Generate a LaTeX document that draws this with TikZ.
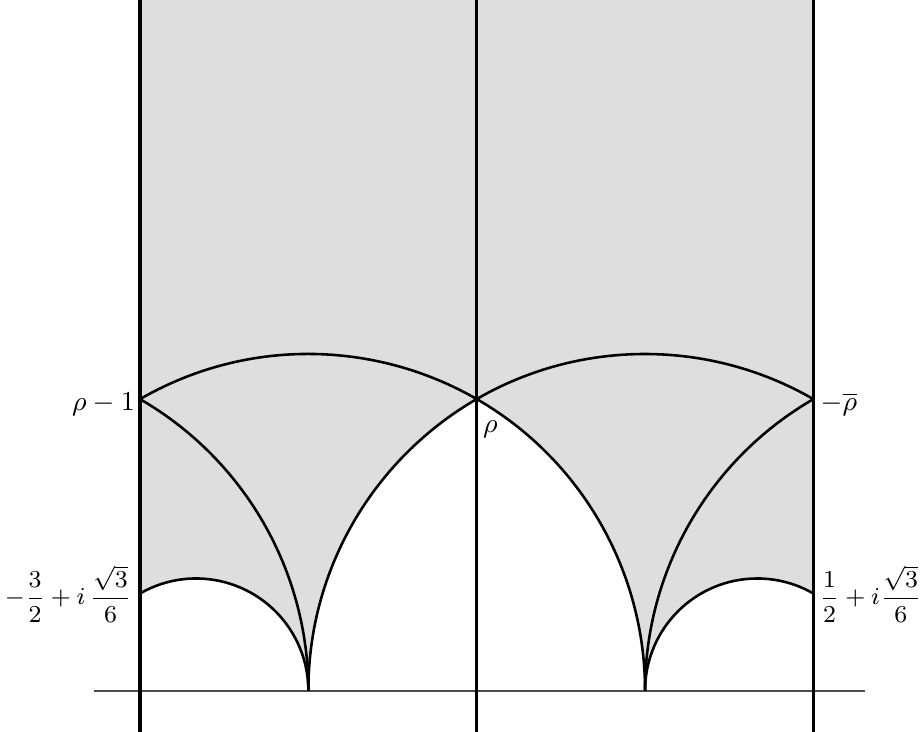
\documentclass[tikz,border=0pt]{standalone}
\usepackage{amsmath}
\definecolor{regiongrey}{RGB}{222,222,222}
\tikzset{
  bound/.style={line width=1.1pt, black},
  curve/.style={line width=0.85pt, black},
  axisline/.style={line width=0.6pt, black!70},
  lbl/.style={inner sep=0pt, font=\small},
  fraclbl/.style={inner sep=0pt, font=\footnotesize}
}
\begin{document}
\begin{tikzpicture}[x=3.9cm,y=3.9cm]
\useasboundingbox (-1.9158,-0.1197) rectangle (0.8166,2.0514);
% named points
\coordinate (topL) at (-1.5,2.06);
\coordinate (topM) at (-0.5,2.06);
\coordinate (topR) at (0.5,2.06);
\coordinate (botL) at (-1.5,-0.13);
\coordinate (botM) at (-0.5,-0.13);
\coordinate (botR) at (0.5,-0.13);
\coordinate (axL) at (-1.636,0);
\coordinate (axR) at (0.653,0);
\coordinate (rhom1) at (-1.5,{sqrt(3)/2});
\coordinate (rho) at (-0.5,{sqrt(3)/2});
\coordinate (mrhobar) at (0.5,{sqrt(3)/2});
\coordinate (lowL) at (-1.5,{sqrt(3)/6});
\coordinate (lowR) at (0.5,{sqrt(3)/6});
\coordinate (cuspL) at (-1,0);
\coordinate (cuspR) at (0,0);
% shaded region
\fill[regiongrey] (topL) -- (lowL) arc[start angle=120,end angle=0,radius=1/3]
  arc[start angle=180,end angle=120,radius=1]
  arc[start angle=60,end angle=0,radius=1]
  arc[start angle=180,end angle=60,radius=1/3]
  -- (topR) -- cycle;
% axis
\draw[axisline] (axL) -- (axR);
% vertical lines
\draw[bound] (botL) -- (topL);
\draw[bound] (botM) -- (topM);
\draw[bound] (botR) -- (topR);
% arcs
\draw[curve] (rhom1) arc[start angle=120,end angle=0,radius=1];   % |z+1|=1
\draw[curve] (cuspL) arc[start angle=180,end angle=60,radius=1];  % |z|=1
\draw[curve] (rhom1) arc[start angle=60,end angle=0,radius=1];    % |z+2|=1
\draw[curve] (mrhobar) arc[start angle=120,end angle=180,radius=1]; % |z-1|=1
\draw[curve] (lowL) arc[start angle=120,end angle=0,radius=1/3];
\draw[curve] (cuspR) arc[start angle=180,end angle=60,radius=1/3];
% labels
\node[lbl, anchor=base east] (l1) at ([xshift=-1.5pt,yshift=-3.8pt]rhom1) {$\rho-1$};
\node[lbl, anchor=north west] (l2) at ([xshift=1.9pt,yshift=-6.9pt]rho) {$\rho$};
\node[lbl, anchor=base west] (l3) at ([xshift=2.2pt,yshift=-3.7pt]mrhobar) {$-\overline{\rho}$};
\node[fraclbl, anchor=base east] (l4) at ([xshift=-2.6pt,yshift=-3.7pt]lowL) {$\displaystyle -\frac{3}{2}+i\,\frac{\sqrt{3}}{6}$};
\node[fraclbl, anchor=base west] (l5) at ([xshift=1.8pt,yshift=-3.7pt]lowR) {$\displaystyle \frac{1}{2}+i\frac{\sqrt{3}}{6}$};
\end{tikzpicture}
\end{document}
